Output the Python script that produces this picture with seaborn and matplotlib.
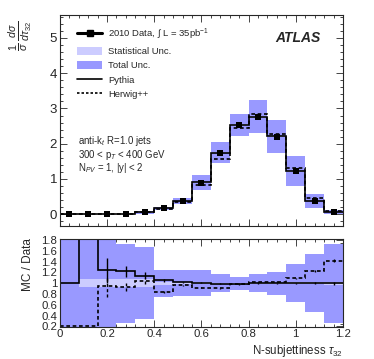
import numpy as np
import pandas as pd
import seaborn as sns
import matplotlib.pyplot as plt
from matplotlib.lines import Line2D
from matplotlib.patches import Patch
from matplotlib.ticker import MultipleLocator

sns.set_style('ticks')
plt.rcParams['font.family'] = ['Liberation Sans', 'DejaVu Sans']
plt.rcParams['mathtext.fontset'] = 'custom'
plt.rcParams['mathtext.rm'] = 'Liberation Sans'
plt.rcParams['mathtext.it'] = 'Liberation Sans:italic'

# binning of tau32
edges = np.round(np.arange(0, 1.2001, 0.08), 2)
centers = np.round(edges[:-1] + 0.04, 2)

# top panel (normalised cross section)
data = [0.0, 0.0, 0.0, 0.01, 0.05, 0.17, 0.38, 0.89, 1.74, 2.53, 2.76, 2.20, 1.22, 0.38, 0.065]
pythia = [0.0, 0.0, 0.0, 0.012, 0.057, 0.18, 0.38, 0.90, 1.73, 2.52, 2.77, 2.21, 1.22, 0.38, 0.066]
herwig = [0.0, 0.0, 0.0, 0.01, 0.05, 0.15, 0.36, 0.82, 1.56, 2.45, 2.83, 2.27, 1.32, 0.46, 0.085]

# relative uncertainties of the data
tot_unc = [0.9, 0.9, 0.9, 0.73, 0.67, 0.25, 0.24, 0.24, 0.17, 0.12, 0.17, 0.21, 0.35, 0.54, 0.73]
stat_unc = [0.0, 0.07, 0.07, 0.07, 0.07, 0.03, 0.02, 0.015, 0.01, 0.01, 0.01, 0.01, 0.015, 0.02, 0.03]

# ratio panel
pythia_ratio = [1.0, 3.0, 1.24, 1.22, 1.14, 1.055, 1.02, 1.01, 0.99, 0.99, 1.0, 1.0, 1.0, 1.0, 1.0]
herwig_ratio = [0.2, 0.2, 0.94, 0.93, 1.04, 0.84, 0.96, 0.92, 0.91, 0.98, 1.02, 1.03, 1.09, 1.22, 1.42]
pythia_rerr = [0.0, 0.0, 0.23, 0.1, 0.06, 0.03, 0.01, 0.01, 0.01, 0.01, 0.01, 0.01, 0.01, 0.02, 0.03]
herwig_rerr = [0.0, 0.0, 0.2, 0.08, 0.05, 0.02, 0.01, 0.01, 0.01, 0.01, 0.01, 0.01, 0.01, 0.02, 0.03]

df = pd.DataFrame({'tau': centers, 'data': data})
d = np.array(data)
tot = np.array(tot_unc)
st = np.array(stat_unc)

blue = '#9999ff'
light = '#ccccff'
dash = (0, (2.2, 1.6))

fig = plt.figure(figsize=(3.74, 3.59), dpi=100)
ax = fig.add_axes([0.160, 0.370, 0.757, 0.588])
rx = fig.add_axes([0.160, 0.088, 0.757, 0.246])

# --- top panel
ax.bar(centers, 2 * tot * d, bottom=d - tot * d, width=0.08, color=blue, lw=0)
ax.bar(centers, 2 * st * d, bottom=d - st * d, width=0.08, color=light, lw=0)
ax.stairs(pythia, edges, color='black', lw=1.2, baseline=None)
ax.stairs(herwig, edges, color='black', lw=1.2, ls=dash, baseline=None)
sns.scatterplot(data=df, x='tau', y='data', ax=ax, marker='s', s=22, color='black',
                edgecolor='black', linewidth=0, zorder=5, legend=False)

ax.set_xlim(0, 1.2)
ax.set_ylim(-0.34, 5.65)
ax.set_xlabel('')
ax.set_ylabel('')
ax.set_yticks([0, 1, 2, 3, 4, 5])
ax.yaxis.set_minor_locator(MultipleLocator(0.2))
ax.xaxis.set_major_locator(MultipleLocator(0.2))
ax.xaxis.set_minor_locator(MultipleLocator(0.04))
ax.tick_params(labelbottom=False)

handles = [
    Line2D([], [], color='black', lw=2.2, marker='s', ms=5),
    Patch(color=light, lw=0),
    Patch(color=blue, lw=0),
    Line2D([], [], color='black', lw=1.2),
    Line2D([], [], color='black', lw=1.2, ls=(0, (1.5, 1.2))),
]
labels = [r'2010 Data, $\int$ L = 35pb$^{-1}$', 'Statistical Unc.', 'Total Unc.',
          'Pythia', 'Herwig++']
ax.legend(handles, labels, loc='upper left', bbox_to_anchor=(0.06, 0.945), frameon=False,
          fontsize=6.8, handlelength=2.7, handleheight=1.0, labelspacing=0.5,
          borderpad=0, borderaxespad=0, handletextpad=0.6)

ax.text(0.84, 0.89, 'ATLAS', transform=ax.transAxes, fontsize=10, fontweight='bold',
        fontstyle='italic', ha='center', va='center')
ax.text(0.064, 0.404, r'anti-k$_t$ R=1.0 jets', transform=ax.transAxes, fontsize=6.9, va='center')
ax.text(0.064, 0.338, r'300 < p$_T$ < 400 GeV', transform=ax.transAxes, fontsize=6.9, va='center')
ax.text(0.064, 0.274, r'N$_{PV}$ = 1, |y| < 2', transform=ax.transAxes, fontsize=6.9, va='center')

# --- ratio panel
rx.bar(centers, 2 * tot, bottom=1 - tot, width=0.08, color=blue, lw=0)
rx.bar(centers, 2 * st, bottom=1 - st, width=0.08, color=light, lw=0)
rx.stairs(pythia_ratio, edges, color='black', lw=1.2, baseline=None)
rx.stairs(herwig_ratio, edges, color='black', lw=1.2, ls=dash, baseline=None)
rx.errorbar(centers, pythia_ratio, yerr=pythia_rerr, fmt='none', ecolor='black', elinewidth=1.0)
eb = rx.errorbar(centers, herwig_ratio, yerr=herwig_rerr, fmt='none', ecolor='black', elinewidth=1.0)
eb[2][0].set_linestyle(dash)

rx.set_xlim(0, 1.2)
rx.set_ylim(0.18, 1.82)
rx.set_yticks(np.round(np.arange(0.2, 1.81, 0.2), 1))
rx.set_yticklabels(['0.2', '0.4', '0.6', '0.8', '1', '1.2', '1.4', '1.6', '1.8'])
rx.yaxis.set_minor_locator(MultipleLocator(0.05))
rx.xaxis.set_major_locator(MultipleLocator(0.2))
rx.xaxis.set_minor_locator(MultipleLocator(0.04))
rx.set_xticks([0, 0.2, 0.4, 0.6, 0.8, 1.0, 1.2])
rx.set_xticklabels(['0', '0.2', '0.4', '0.6', '0.8', '1', '1.2'])

for a in (ax, rx):
    a.tick_params(which='both', direction='in', top=True, right=True, labelsize=8.5, pad=2)
    a.tick_params(which='major', length=5, width=0.6)
    a.tick_params(which='minor', length=2.5, width=0.6)
    for sp in a.spines.values():
        sp.set_linewidth(0.8)
        sp.set_zorder(10)
rx.tick_params(labelsize=8.2)
rx.tick_params(axis='x', pad=1)
ax.tick_params(labelsize=9.5)

fig.text(0.055, 0.9, r'$\frac{1}{\sigma}\,\frac{d\sigma}{d\tau_{32}}$', rotation=90,
         ha='center', va='center', fontsize=11)
fig.text(0.075, 0.262, 'MC / Data', rotation=90, ha='center', va='center', fontsize=8.5)
fig.text(0.917, 0.0, r'N-subjettiness $\tau_{32}$', ha='right', va='bottom', fontsize=8.3)

fig.savefig('out.png', dpi=100)
